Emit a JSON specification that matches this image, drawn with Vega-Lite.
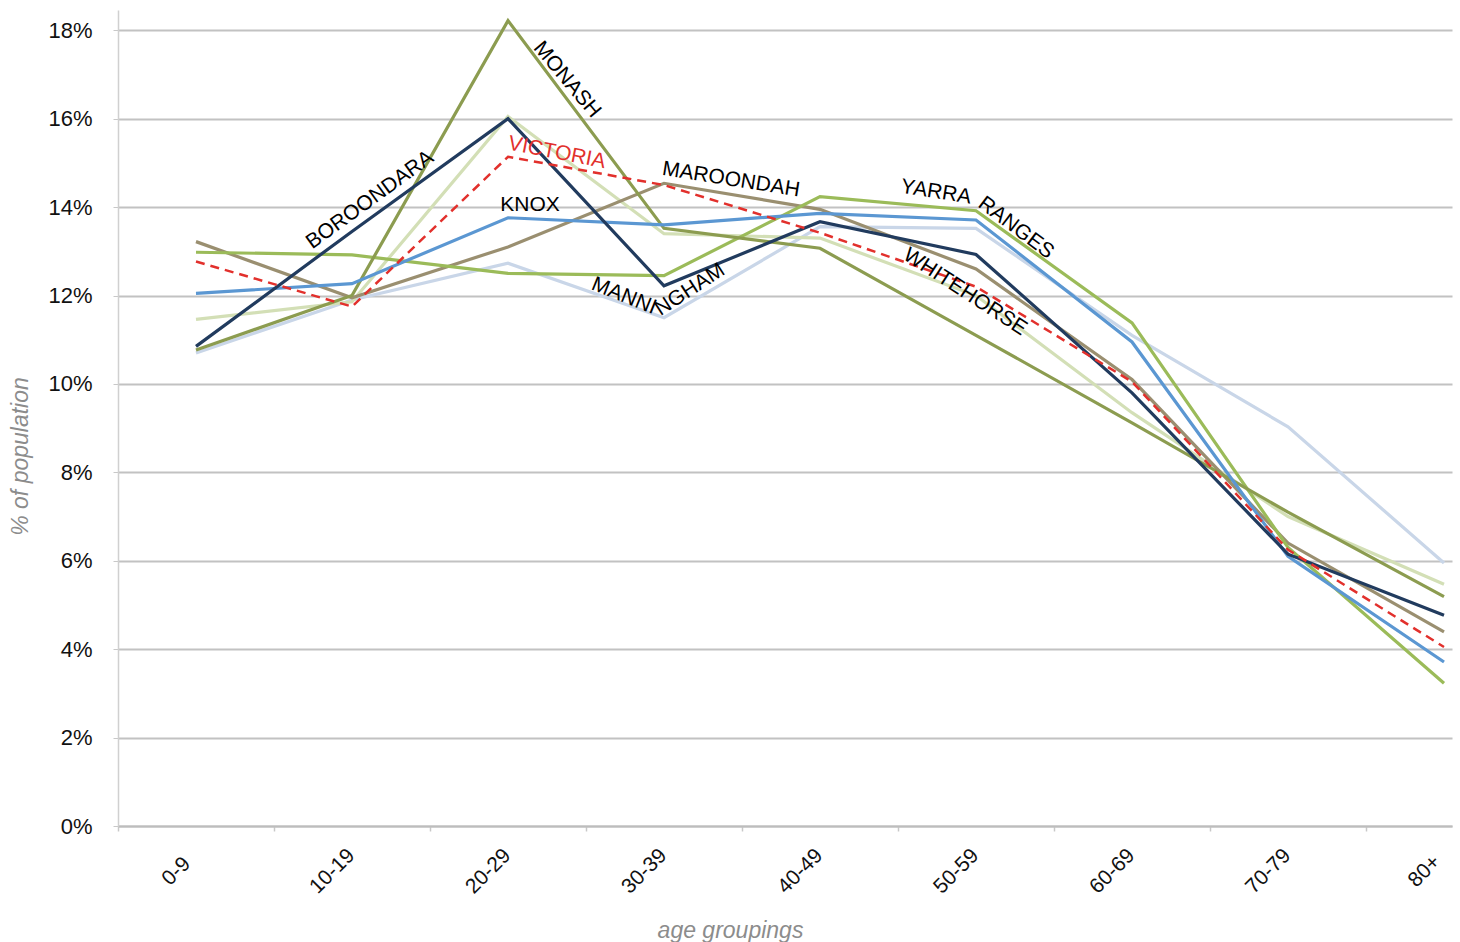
{
  "$schema": "https://vega.github.io/schema/vega-lite/v6.json",
  "width": 1334,
  "height": 816,
  "autosize": {"type": "none"},
  "padding": {"left": 118, "top": 10, "right": 8, "bottom": 116},
  "background": "white",
  "config": {"view": {"stroke": null}, "font": "Liberation Sans", "text": {"font": "Liberation Sans"}},
  "datasets": {
    "pop": [
      {"region": "Manningham", "age": "0-9", "pct": 10.7},
      {"region": "Manningham", "age": "10-19", "pct": 11.9},
      {"region": "Manningham", "age": "20-29", "pct": 12.73},
      {"region": "Manningham", "age": "30-39", "pct": 11.5},
      {"region": "Manningham", "age": "40-49", "pct": 13.56},
      {"region": "Manningham", "age": "50-59", "pct": 13.52},
      {"region": "Manningham", "age": "60-69", "pct": 11.1},
      {"region": "Manningham", "age": "70-79", "pct": 9.03},
      {"region": "Manningham", "age": "80+", "pct": 5.95},
      {"region": "Whitehorse", "age": "0-9", "pct": 11.46},
      {"region": "Whitehorse", "age": "10-19", "pct": 11.86},
      {"region": "Whitehorse", "age": "20-29", "pct": 16.05},
      {"region": "Whitehorse", "age": "30-39", "pct": 13.4},
      {"region": "Whitehorse", "age": "40-49", "pct": 13.3},
      {"region": "Whitehorse", "age": "50-59", "pct": 12.0},
      {"region": "Whitehorse", "age": "60-69", "pct": 9.35},
      {"region": "Whitehorse", "age": "70-79", "pct": 7.0},
      {"region": "Whitehorse", "age": "80+", "pct": 5.47},
      {"region": "Maroondah", "age": "0-9", "pct": 13.22},
      {"region": "Maroondah", "age": "10-19", "pct": 11.95},
      {"region": "Maroondah", "age": "20-29", "pct": 13.1},
      {"region": "Maroondah", "age": "30-39", "pct": 14.54},
      {"region": "Maroondah", "age": "40-49", "pct": 13.95},
      {"region": "Maroondah", "age": "50-59", "pct": 12.6},
      {"region": "Maroondah", "age": "60-69", "pct": 10.1},
      {"region": "Maroondah", "age": "70-79", "pct": 6.4},
      {"region": "Maroondah", "age": "80+", "pct": 4.39},
      {"region": "Yarra Ranges", "age": "0-9", "pct": 12.98},
      {"region": "Yarra Ranges", "age": "10-19", "pct": 12.92},
      {"region": "Yarra Ranges", "age": "20-29", "pct": 12.5},
      {"region": "Yarra Ranges", "age": "30-39", "pct": 12.45},
      {"region": "Yarra Ranges", "age": "40-49", "pct": 14.24},
      {"region": "Yarra Ranges", "age": "50-59", "pct": 13.92},
      {"region": "Yarra Ranges", "age": "60-69", "pct": 11.38},
      {"region": "Yarra Ranges", "age": "70-79", "pct": 6.3},
      {"region": "Yarra Ranges", "age": "80+", "pct": 3.23},
      {"region": "Monash", "age": "0-9", "pct": 10.77},
      {"region": "Monash", "age": "10-19", "pct": 12.0},
      {"region": "Monash", "age": "20-29", "pct": 18.22},
      {"region": "Monash", "age": "30-39", "pct": 13.52},
      {"region": "Monash", "age": "40-49", "pct": 13.07},
      {"region": "Monash", "age": "50-59", "pct": 11.1},
      {"region": "Monash", "age": "60-69", "pct": 9.12},
      {"region": "Monash", "age": "70-79", "pct": 7.1},
      {"region": "Monash", "age": "80+", "pct": 5.19},
      {"region": "Knox", "age": "0-9", "pct": 12.05},
      {"region": "Knox", "age": "10-19", "pct": 12.27},
      {"region": "Knox", "age": "20-29", "pct": 13.76},
      {"region": "Knox", "age": "30-39", "pct": 13.6},
      {"region": "Knox", "age": "40-49", "pct": 13.86},
      {"region": "Knox", "age": "50-59", "pct": 13.71},
      {"region": "Knox", "age": "60-69", "pct": 10.95},
      {"region": "Knox", "age": "70-79", "pct": 6.1},
      {"region": "Knox", "age": "80+", "pct": 3.71},
      {"region": "Boroondara", "age": "0-9", "pct": 10.85},
      {"region": "Boroondara", "age": "10-19", "pct": 13.45},
      {"region": "Boroondara", "age": "20-29", "pct": 16.0},
      {"region": "Boroondara", "age": "30-39", "pct": 12.22},
      {"region": "Boroondara", "age": "40-49", "pct": 13.67},
      {"region": "Boroondara", "age": "50-59", "pct": 12.93},
      {"region": "Boroondara", "age": "60-69", "pct": 9.8},
      {"region": "Boroondara", "age": "70-79", "pct": 6.15},
      {"region": "Boroondara", "age": "80+", "pct": 4.77},
      {"region": "Victoria", "age": "0-9", "pct": 12.77},
      {"region": "Victoria", "age": "10-19", "pct": 11.75},
      {"region": "Victoria", "age": "20-29", "pct": 15.14},
      {"region": "Victoria", "age": "30-39", "pct": 14.5},
      {"region": "Victoria", "age": "40-49", "pct": 13.42},
      {"region": "Victoria", "age": "50-59", "pct": 12.2},
      {"region": "Victoria", "age": "60-69", "pct": 10.05},
      {"region": "Victoria", "age": "70-79", "pct": 6.25},
      {"region": "Victoria", "age": "80+", "pct": 4.05}
    ],
    "labels": [
      {"label": "BOROONDARA", "age": "10-19", "pct": 14.16},
      {"label": "MONASH", "age": "20-29", "pct": 16.88},
      {"label": "VICTORIA", "age": "20-29", "pct": 15.23},
      {"label": "KNOX", "age": "20-29", "pct": 14.05},
      {"label": "MAROONDAH", "age": "40-49", "pct": 14.62},
      {"label": "YARRA", "age": "50-59", "pct": 14.34},
      {"label": "RANGES", "age": "50-59", "pct": 13.53},
      {"label": "WHITEHORSE", "age": "50-59", "pct": 12.08},
      {"label": "MANNI", "age": "30-39", "pct": 11.99},
      {"label": "NGHAM", "age": "30-39", "pct": 12.13}
    ]
  },
  "encoding": {
    "x": {
      "field": "age",
      "type": "ordinal",
      "sort": ["0-9", "10-19", "20-29", "30-39", "40-49", "50-59", "60-69", "70-79", "80+"],
      "scale": {"type": "point", "padding": 0.2756, "align": 0.907},
      "axis": {
        "title": "age groupings",
        "titleFont": "Liberation Sans",
        "titleFontSize": 23,
        "titleFontStyle": "italic",
        "titleFontWeight": "normal",
        "titleColor": "#8c8c8c",
        "titleX": 612,
        "titleY": 104,
        "titleAlign": "center",
        "titleBaseline": "middle",
        "titleAngle": 0,
        "labelAngle": -45,
        "labelAlign": "center",
        "labelBaseline": "middle",
        "labelFont": "Liberation Sans",
        "labelFontSize": 21,
        "labelColor": "#111111",
        "labelPadding": 40,
        "labelOffset": 58,
        "tickOffset": -78,
        "tickSize": 5,
        "tickColor": "#c8c8c8",
        "tickWidth": 1.5,
        "domainColor": "#bdbdbd",
        "domainWidth": 2,
        "grid": false,
        "labelOverlap": false,
        "labelBound": false
      }
    },
    "y": {
      "field": "pct",
      "type": "quantitative",
      "scale": {"domain": [0, 18.46], "nice": false, "zero": true},
      "axis": {
        "title": "% of population",
        "values": [0, 2, 4, 6, 8, 10, 12, 14, 16, 18],
        "labelExpr": "datum.value + '%'",
        "labelFont": "Liberation Sans",
        "labelFontSize": 22,
        "labelColor": "#111111",
        "labelPadding": 21,
        "tickSize": 5,
        "tickColor": "#c8c8c8",
        "domainColor": "#d0d0d0",
        "domainWidth": 1.5,
        "grid": true,
        "gridColor": "#c2c2c2",
        "gridWidth": 2,
        "titleFont": "Liberation Sans",
        "titleFontSize": 23,
        "titleFontStyle": "italic",
        "titleFontWeight": "normal",
        "titleColor": "#8c8c8c",
        "titleX": -98,
        "titleY": 446,
        "titleAngle": -90,
        "titleAlign": "center",
        "titleBaseline": "middle"
      }
    }
  },
  "layer": [
    {
      "data": {"name": "pop"},
      "transform": [{"filter": "datum.region != 'Victoria'"}],
      "mark": {"type": "line", "strokeWidth": 3.2},
      "encoding": {
        "color": {
          "field": "region",
          "type": "nominal",
          "scale": {
            "domain": ["Manningham", "Whitehorse", "Maroondah", "Yarra Ranges", "Monash", "Knox", "Boroondara"],
            "range": ["#c9d6e8", "#d3dfb6", "#9a8f70", "#9bbb59", "#8c9c50", "#5b97d2", "#213b5e"]
          },
          "legend": null
        }
      }
    },
    {
      "data": {"name": "pop"},
      "transform": [{"filter": "datum.region == 'Victoria'"}],
      "mark": {"type": "line", "strokeWidth": 2.5, "strokeDash": [9, 6], "color": "#e2302c"},
      "encoding": {}
    },
    {
      "data": {"name": "labels"},
      "transform": [{"filter": "datum.label == 'BOROONDARA'"}],
      "mark": {"type": "text", "fontSize": 21, "angle": -36, "dx": 14.6, "dy": 10.6, "align": "center", "baseline": "middle", "color": "#000000"},
      "encoding": {"text": {"field": "label"}}
    },
    {
      "data": {"name": "labels"},
      "transform": [{"filter": "datum.label == 'MONASH'"}],
      "mark": {"type": "text", "fontSize": 21, "angle": 50, "dx": 37.9, "dy": -45.2, "align": "center", "baseline": "middle", "color": "#000000"},
      "encoding": {"text": {"field": "label"}}
    },
    {
      "data": {"name": "labels"},
      "transform": [{"filter": "datum.label == 'VICTORIA'"}],
      "mark": {"type": "text", "fontSize": 21, "angle": 11, "dx": 48.1, "dy": -9.35, "align": "center", "baseline": "middle", "color": "#e2302c"},
      "encoding": {"text": {"field": "label"}}
    },
    {
      "data": {"name": "labels"},
      "transform": [{"filter": "datum.label == 'KNOX'"}],
      "mark": {"type": "text", "fontSize": 21, "angle": 0, "dx": 22, "align": "center", "baseline": "middle", "color": "#000000"},
      "encoding": {"text": {"field": "label"}}
    },
    {
      "data": {"name": "labels"},
      "transform": [{"filter": "datum.label == 'MAROONDAH'"}],
      "mark": {"type": "text", "fontSize": 21, "angle": 9, "dx": -87.9, "dy": 13.9, "align": "center", "baseline": "middle", "color": "#000000"},
      "encoding": {"text": {"field": "label"}}
    },
    {
      "data": {"name": "labels"},
      "transform": [{"filter": "datum.label == 'YARRA'"}],
      "mark": {"type": "text", "fontSize": 21, "angle": 9, "dx": -39.5, "dy": 6.3, "align": "center", "baseline": "middle", "color": "#000000"},
      "encoding": {"text": {"field": "label"}}
    },
    {
      "data": {"name": "labels"},
      "transform": [{"filter": "datum.label == 'RANGES'"}],
      "mark": {"type": "text", "fontSize": 21, "angle": 37, "dx": 31.9, "dy": -24.1, "align": "center", "baseline": "middle", "color": "#000000"},
      "encoding": {"text": {"field": "label"}}
    },
    {
      "data": {"name": "labels"},
      "transform": [{"filter": "datum.label == 'WHITEHORSE'"}],
      "mark": {"type": "text", "fontSize": 21, "angle": 33, "dx": -9.2, "dy": 6.0, "align": "center", "baseline": "middle", "color": "#000000"},
      "encoding": {"text": {"field": "label"}}
    },
    {
      "data": {"name": "labels"},
      "transform": [{"filter": "datum.label == 'MANNI'"}],
      "mark": {"type": "text", "fontSize": 21, "angle": 22, "dx": -37.1, "dy": 15.0, "align": "center", "baseline": "middle", "color": "#000000"},
      "encoding": {"text": {"field": "label"}}
    },
    {
      "data": {"name": "labels"},
      "transform": [{"filter": "datum.label == 'NGHAM'"}],
      "mark": {"type": "text", "fontSize": 21, "angle": -33, "dx": 21.8, "dy": 14.2, "align": "center", "baseline": "middle", "color": "#000000"},
      "encoding": {"text": {"field": "label"}}
    }
  ]
}
